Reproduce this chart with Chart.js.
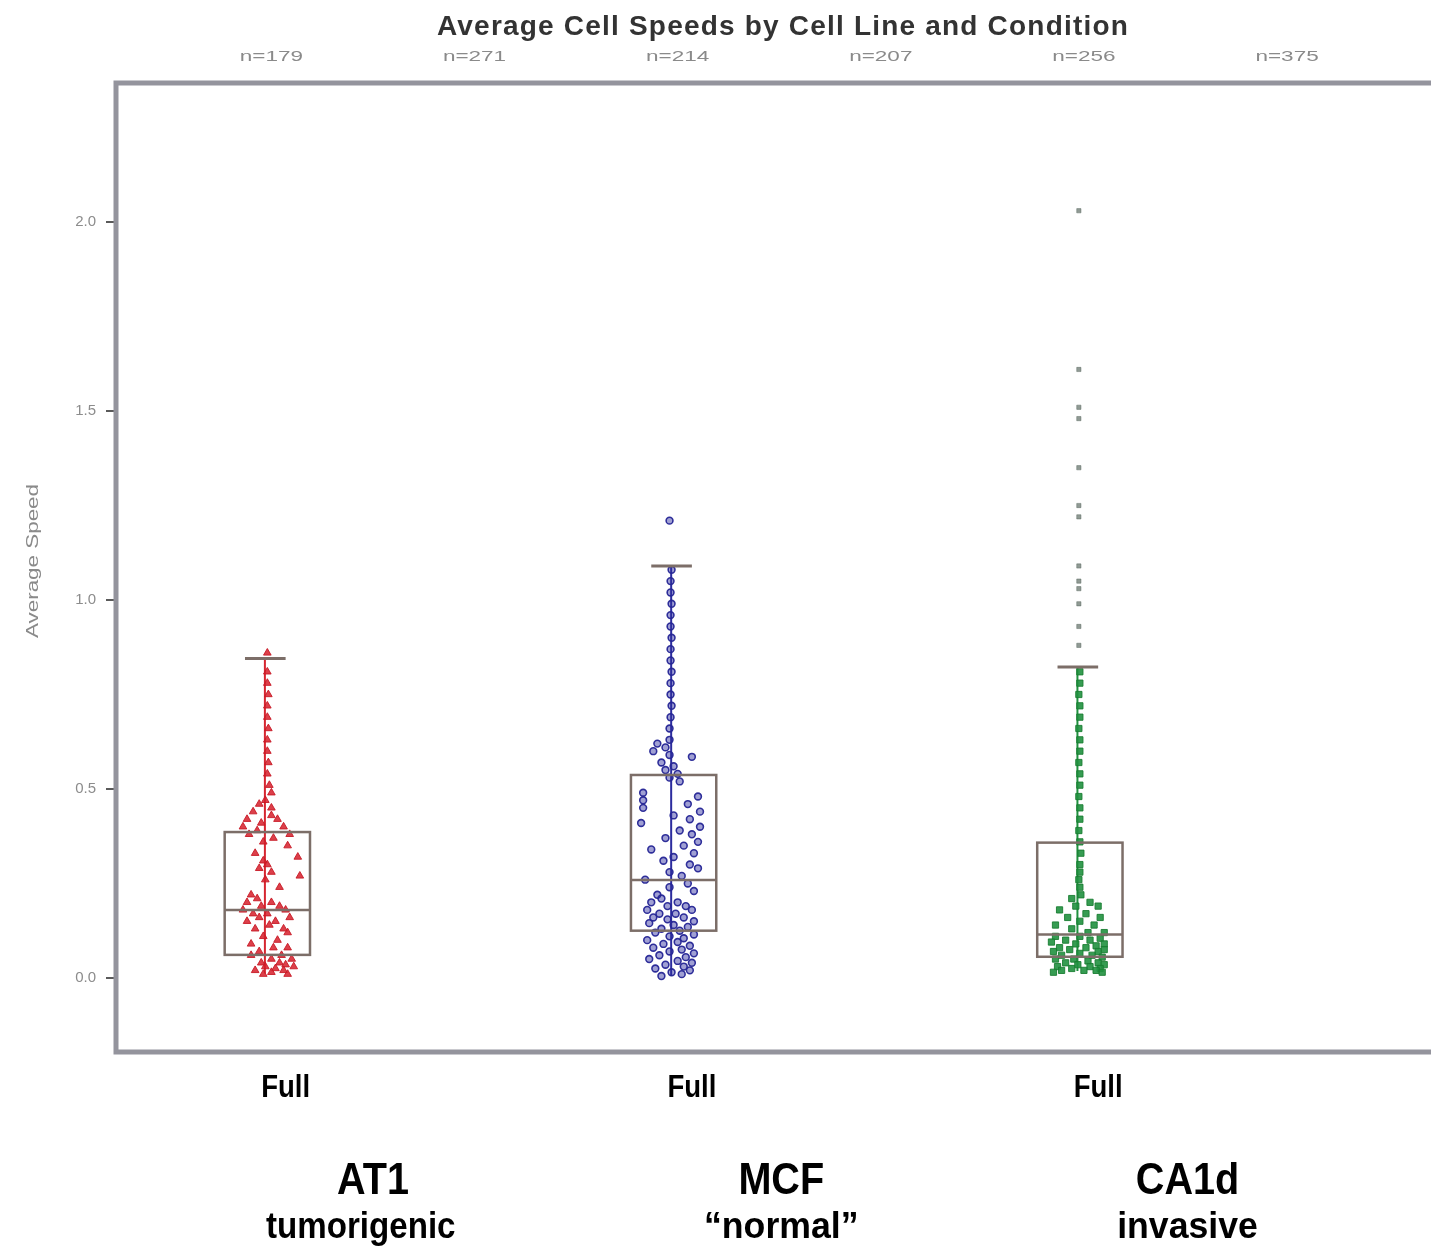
<!DOCTYPE html>
<html>
<head>
<meta charset="utf-8">
<title>Average Cell Speeds by Cell Line and Condition</title>
<script src="https://cdn.jsdelivr.net/npm/chart.js@4.4.1/dist/chart.umd.min.js"></script>
<style>
  html, body { margin: 0; padding: 0; background: #ffffff; overflow: hidden; }
  #wrap { width: 1431px; height: 1246px; position: relative; }
  canvas { display: block; }
</style>
</head>
<body>
<div id="wrap"><canvas id="chart" width="1431" height="1246"></canvas></div>
<script>
// ---- data ----
const chartTitle = 'Average Cell Speeds by Cell Line and Condition';
const yTitle = 'Average Speed';
const slotCounts = ['n=179', 'n=271', 'n=214', 'n=207', 'n=256', 'n=375'];
const yTicks = [0.0, 0.5, 1.0, 1.5, 2.0];

const cellLines = ['AT1', 'MCF', 'CA1d'];
const descriptors = ['tumorigenic', '\u201Cnormal\u201D', 'invasive'];
const conditions = ['Full', 'Full', 'Full'];
const groupSlots = [0, 2, 4];

const boxLow = [0.012, 0.005, 0.018];
const boxQ1 = [0.061, 0.125, 0.056];
const boxMedian = [0.180, 0.259, 0.115];
const boxQ3 = [0.386, 0.537, 0.358];
const boxHigh = [0.845, 1.090, 0.823];

// [speed, horizontal jitter in slot units]
const at1Speeds = [
  [0.86, 0], [0.81, 0], [0.78, 0], [0.75, 0.005], [0.72, 0], [0.69, 0], [0.66, 0.005], [0.63, 0],
  [0.60, 0], [0.57, 0.005], [0.54, 0], [0.51, 0.01], [0.49, 0.02], [0.47, -0.01],
  [0.46, -0.04], [0.45, 0.02], [0.44, -0.07], [0.43, 0.02], [0.42, -0.10], [0.42, 0.05], [0.41, -0.03],
  [0.40, -0.12], [0.40, 0.08], [0.39, -0.05], [0.38, 0.11], [0.38, -0.09], [0.37, 0.03], [0.36, -0.02], [0.35, 0.10],
  [0.33, -0.06], [0.32, 0.15], [0.31, -0.02], [0.30, 0.00], [0.29, -0.04], [0.28, 0.02], [0.27, 0.16],
  [0.26, -0.01], [0.24, 0.06], [0.22, -0.08],
  [0.21, -0.05], [0.20, 0.02], [0.20, -0.10], [0.19, 0.06], [0.19, -0.03], [0.18, -0.12], [0.18, 0.09],
  [0.17, 0.00], [0.17, -0.07], [0.16, 0.11], [0.16, -0.04], [0.15, 0.04], [0.15, -0.10], [0.14, 0.01],
  [0.13, 0.08], [0.13, -0.06], [0.12, 0.10], [0.11, -0.02], [0.10, 0.05], [0.09, -0.08], [0.08, 0.03], [0.08, 0.10],
  [0.07, -0.04], [0.06, 0.07], [0.06, -0.08], [0.05, 0.02], [0.05, 0.12], [0.04, -0.03], [0.04, 0.06],
  [0.035, 0.09], [0.03, -0.01], [0.03, 0.13], [0.025, 0.04], [0.02, -0.06], [0.02, 0.08], [0.015, 0.02],
  [0.01, 0.10], [0.01, -0.02]
];

const mcfSpeeds = [
  [1.21, -0.02],
  [1.08, -0.01], [1.05, -0.015], [1.02, -0.015], [0.99, -0.01], [0.96, -0.015], [0.93, -0.015], [0.90, -0.01],
  [0.87, -0.015], [0.84, -0.015], [0.81, -0.01], [0.78, -0.015], [0.75, -0.015], [0.72, -0.01], [0.69, -0.015],
  [0.66, -0.02], [0.63, -0.02],
  [0.62, -0.08], [0.61, -0.04], [0.60, -0.10], [0.59, -0.02], [0.585, 0.09], [0.57, -0.06], [0.56, 0.00],
  [0.55, -0.04], [0.54, 0.02], [0.53, -0.02], [0.52, 0.03],
  [0.49, -0.15], [0.48, 0.12], [0.47, -0.15], [0.46, 0.07], [0.45, -0.15], [0.44, 0.13], [0.43, 0.00],
  [0.42, 0.08], [0.41, -0.16], [0.40, 0.13], [0.39, 0.03], [0.38, 0.09], [0.37, -0.04], [0.36, 0.12],
  [0.35, 0.05], [0.34, -0.11], [0.33, 0.10], [0.32, 0.00], [0.31, -0.05], [0.30, 0.08], [0.29, 0.12],
  [0.28, -0.02], [0.27, 0.04], [0.26, -0.14], [0.25, 0.07], [0.24, -0.02], [0.23, 0.10], [0.22, -0.08],
  [0.21, -0.06], [0.20, 0.02], [0.20, -0.11], [0.19, 0.06], [0.19, -0.03], [0.18, -0.13], [0.18, 0.09],
  [0.17, -0.07], [0.17, 0.01], [0.16, -0.10], [0.16, 0.05], [0.155, -0.03], [0.15, 0.10], [0.145, -0.12],
  [0.14, 0.00], [0.135, 0.07], [0.13, -0.06], [0.125, 0.03], [0.12, -0.09], [0.115, 0.10], [0.11, -0.02],
  [0.105, 0.05], [0.10, -0.13], [0.095, 0.02], [0.09, -0.05], [0.085, 0.08], [0.08, -0.10], [0.075, 0.04],
  [0.07, -0.02], [0.065, 0.10], [0.06, -0.07], [0.055, 0.06], [0.05, -0.12], [0.045, 0.02], [0.04, 0.09],
  [0.035, -0.04], [0.03, 0.05], [0.025, -0.09], [0.02, 0.08], [0.015, -0.01], [0.01, 0.04], [0.005, -0.06]
];

const ca1dSpeeds = [
  [0.81, 0], [0.78, 0], [0.75, -0.005], [0.72, 0], [0.69, 0], [0.66, -0.005], [0.63, 0], [0.60, 0],
  [0.57, -0.005], [0.54, 0], [0.51, 0], [0.48, -0.005], [0.45, 0], [0.42, 0], [0.39, -0.005], [0.36, 0],
  [0.33, 0.005], [0.30, 0], [0.28, 0], [0.26, -0.005], [0.24, 0], [0.22, 0.005],
  [0.21, -0.04], [0.20, 0.05], [0.19, -0.02], [0.19, 0.09], [0.18, -0.10], [0.17, 0.03], [0.16, -0.06],
  [0.16, 0.10], [0.15, 0.00], [0.14, -0.12], [0.14, 0.07], [0.13, -0.04], [0.12, 0.04], [0.12, 0.12],
  [0.11, -0.12], [0.11, 0.00], [0.105, 0.10], [0.10, -0.07], [0.10, 0.05], [0.095, -0.14], [0.09, 0.12],
  [0.09, -0.02], [0.085, 0.08], [0.08, -0.10], [0.08, 0.03], [0.075, -0.05], [0.075, 0.12], [0.07, 0.09],
  [0.07, -0.13], [0.065, 0.00], [0.06, -0.09], [0.06, 0.06], [0.055, 0.11], [0.05, -0.03], [0.05, -0.12],
  [0.045, 0.04], [0.04, 0.09], [0.04, -0.07], [0.035, 0.12], [0.035, -0.01], [0.03, -0.11], [0.03, 0.05],
  [0.025, 0.10], [0.025, -0.04], [0.02, 0.02], [0.02, -0.09], [0.02, 0.08], [0.015, -0.13], [0.015, 0.11]
];
const ca1dOutliers = [2.03, 1.61, 1.51, 1.48, 1.35, 1.25, 1.22, 1.09, 1.05, 1.03, 0.99, 0.93, 0.88];

// ---- styling ----
const seriesColors = ['#d62630', '#2c2c9e', '#20913f'];
const boxColor = '#7c6e68';
const frameColor = '#94949d';
// horizontal placement of the captions under each group, in slot units
const nameShift = [0.52, 0.53, 0.53];
const descriptorShift = [0.46, 0.53, 0.53];

function toPoints(list, slot) {
  return list.map(([v, dx]) => ({ x: slot + dx, y: v }));
}

const datasets = [
  {
    label: cellLines[0], data: toPoints(at1Speeds, groupSlots[0]),
    pointStyle: 'triangle', pointRadius: 4.4, borderWidth: 1,
    backgroundColor: 'rgba(214,30,42,0.85)', borderColor: 'rgba(200,25,38,0.9)'
  },
  {
    label: cellLines[1], data: toPoints(mcfSpeeds, groupSlots[1]),
    pointStyle: 'circle', pointRadius: 3.4, borderWidth: 1.6,
    backgroundColor: 'rgba(44,44,158,0.45)', borderColor: 'rgba(38,38,150,0.95)'
  },
  {
    label: cellLines[2], data: toPoints(ca1dSpeeds, groupSlots[2]),
    pointStyle: 'rect', pointRadius: 4.4, borderWidth: 1,
    backgroundColor: 'rgba(32,145,63,0.9)', borderColor: 'rgba(25,125,50,0.9)'
  },
  {
    label: cellLines[2] + ' outliers', data: ca1dOutliers.map(v => ({ x: groupSlots[2] - 0.005, y: v })),
    pointStyle: 'rect', pointRadius: 3, borderWidth: 1,
    backgroundColor: 'rgba(85,100,90,0.65)', borderColor: 'rgba(85,100,90,0.45)'
  }
];

const decorations = {
  id: 'decorations',
  beforeDatasetsDraw(chart) {
    const { ctx, scales: { x, y } } = chart;
    ctx.save();
    groupSlots.forEach((slot, i) => {
      const cx = x.getPixelForValue(slot - 0.012);
      ctx.strokeStyle = seriesColors[i];
      ctx.lineWidth = 2;
      ctx.beginPath();
      ctx.moveTo(cx, y.getPixelForValue(boxHigh[i]));
      ctx.lineTo(cx, y.getPixelForValue(boxLow[i]));
      ctx.stroke();
    });
    ctx.restore();
  },
  afterDatasetsDraw(chart) {
    const { ctx, chartArea: a, scales: { x, y } } = chart;
    ctx.save();
    // boxes, medians and whisker caps
    groupSlots.forEach((slot, i) => {
      const l = x.getPixelForValue(slot - 0.21);
      const r = x.getPixelForValue(slot + 0.21);
      const t = y.getPixelForValue(boxQ3[i]);
      const b = y.getPixelForValue(boxQ1[i]);
      const m = y.getPixelForValue(boxMedian[i]);
      ctx.strokeStyle = boxColor;
      ctx.lineWidth = 2.5;
      ctx.strokeRect(l, t, r - l, b - t);
      ctx.beginPath();
      ctx.moveTo(l, m); ctx.lineTo(r, m);
      ctx.stroke();
      const cl = x.getPixelForValue(slot - 0.11);
      const cr = x.getPixelForValue(slot + 0.09);
      const cy = y.getPixelForValue(boxHigh[i]);
      ctx.lineWidth = 3;
      ctx.beginPath();
      ctx.moveTo(cl, cy); ctx.lineTo(cr, cy);
      ctx.stroke();
    });

    // plot frame (left, top, bottom)
    ctx.strokeStyle = frameColor;
    ctx.lineWidth = 5;
    ctx.beginPath();
    ctx.moveTo(a.right + 10, a.top);
    ctx.lineTo(a.left, a.top);
    ctx.lineTo(a.left, a.bottom);
    ctx.lineTo(a.right + 10, a.bottom);
    ctx.stroke();

    ctx.textAlign = 'center';
    ctx.textBaseline = 'middle';

    // title
    ctx.fillStyle = '#333333';
    ctx.font = 'bold 28px "Liberation Sans", Arial, sans-serif';
    ctx.letterSpacing = '1.2px';
    ctx.fillText(chartTitle, 783, 27);
    ctx.letterSpacing = '0px';

    // counts per slot along the top
    ctx.fillStyle = '#8a8a8a';
    ctx.font = '15px "Liberation Sans", Arial, sans-serif';
    slotCounts.forEach((label, i) => {
      ctx.save();
      ctx.translate(x.getPixelForValue(i + 0.02), 57);
      ctx.scale(1.5, 1);
      ctx.fillText(label, 0, 0);
      ctx.restore();
    });

    // y axis title
    ctx.save();
    ctx.translate(34, 561);
    ctx.rotate(-Math.PI / 2);
    ctx.scale(1.4, 1);
    ctx.font = '16px "Liberation Sans", Arial, sans-serif';
    ctx.fillText(yTitle, 0, 0);
    ctx.restore();

    // group labels below the plot
    ctx.fillStyle = '#000000';
    const drawNarrow = (text, px, py, size, squeeze) => {
      ctx.save();
      ctx.translate(px, py);
      ctx.scale(squeeze, 1);
      ctx.font = 'bold ' + size + 'px "Liberation Sans", Arial, sans-serif';
      ctx.fillText(text, 0, 0);
      ctx.restore();
    };
    groupSlots.forEach((slot, i) => {
      drawNarrow(conditions[i], x.getPixelForValue(slot + 0.09), 1088, 32, 0.86);
      drawNarrow(cellLines[i], x.getPixelForValue(slot + nameShift[i]), 1182, 44, 0.9);
      drawNarrow(descriptors[i], x.getPixelForValue(slot + descriptorShift[i]), 1228, 36, i === 0 ? 0.92 : 0.99);
    });
    ctx.restore();
  }
};

new Chart(document.getElementById('chart'), {
  type: 'scatter',
  data: { datasets },
  options: {
    responsive: false,
    animation: false,
    events: [],
    layout: { padding: { left: 0, right: 0, top: 83, bottom: 194 } },
    plugins: { legend: { display: false }, tooltip: { enabled: false }, title: { display: false } },
    scales: {
      x: { type: 'linear', display: false, min: -0.745, max: 5.701 },
      y: {
        type: 'linear', min: -0.196, max: 2.368,
        afterBuildTicks: s => { s.ticks = yTicks.map(v => ({ value: v })); },
        afterFit: s => { s.width = 116; },
        ticks: {
          callback: v => Number(v).toFixed(1),
          color: '#8c8c8c',
          font: { size: 15, family: '"Liberation Sans", Arial, sans-serif' },
          padding: 10
        },
        grid: { drawOnChartArea: false, drawTicks: true, tickLength: 10, color: '#5a5a5a', lineWidth: 2 },
        border: { display: false }
      }
    }
  },
  plugins: [decorations]
});
</script>
</body>
</html>
